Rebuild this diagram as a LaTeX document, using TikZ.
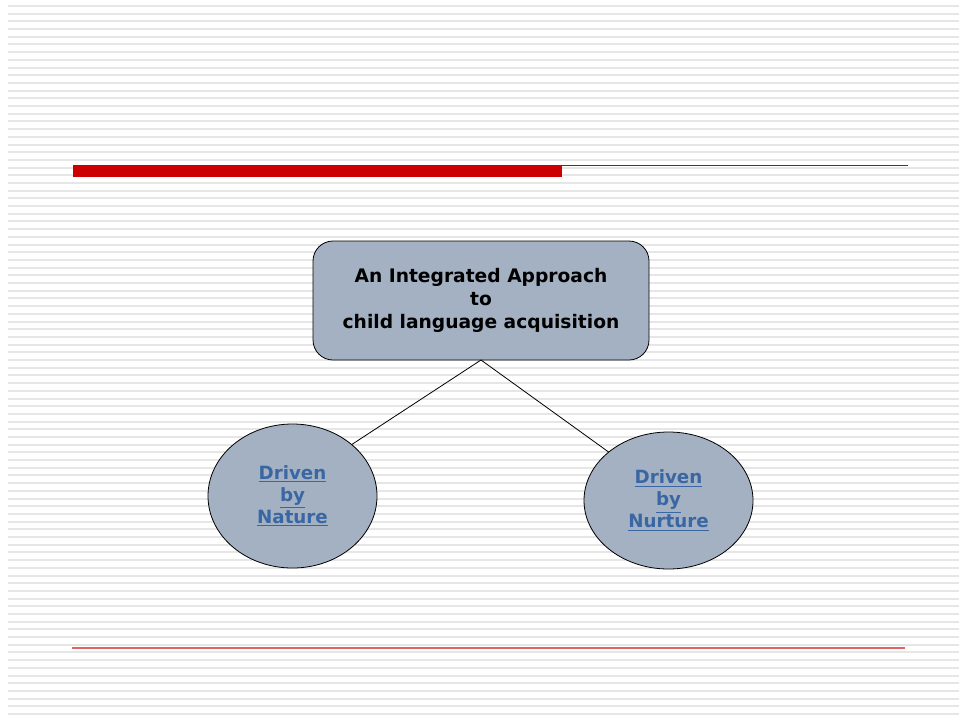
\documentclass[tikz,border=0pt]{standalone}
\usepackage{fontspec}
\setmainfont{DejaVu Sans}
\usetikzlibrary{shapes.geometric}
\definecolor{stripegray}{HTML}{E6E6E6}
\definecolor{barred}{HTML}{CC0000}
\definecolor{rulered}{HTML}{E06464}
\definecolor{boxfill}{HTML}{A3B1C2}
\definecolor{linkblue}{HTML}{3A67A3}
\tikzset{
  stripe/.style={fill=stripegray},
  titlebox/.style={draw=black, line width=0.6pt, fill=boxfill, rounded corners=15pt,
    minimum width=252pt, minimum height=89.25pt, inner sep=0pt, outer sep=0pt,
    align=center, font=\fontsize{14}{17}\selectfont\bfseries},
  bubble/.style={ellipse, draw=black, line width=0.6pt, fill=boxfill, inner sep=0pt, outer sep=0pt,
    minimum width=126.75pt, align=center, text=linkblue,
    font=\fontsize{13.7}{16.5}\selectfont\bfseries},
  link/.style={draw=black, line width=0.6pt}
}
\begin{document}
\begin{tikzpicture}[x=0.75pt,y=-0.75pt]
  \useasboundingbox (0,0) rectangle (959,715);
  \fill[white] (0,0) rectangle (959,715);
  % ruled background
  \foreach \k in {0,...,92}
    \fill[stripe] (8,{5+7.696*\k}) rectangle (959,{7+7.696*\k});
  % title bar and rules
  \fill[barred] (73,165) rectangle (562,177);
  \draw[barred, line width=1pt] (562,165.5) -- (908,165.5);
  \draw[rulered, line width=1.2pt] (72,648) -- (905,648);
  % diagram
  \node[titlebox] (top) at (481,300.5)
    {An Integrated Approach\\to\\child language acquisition};
  \node[bubble, minimum height=108pt] (nature) at (292.5,496)
    {\underline{Driven}\\\underline{by}\\\underline{Nature}};
  \node[bubble, minimum height=102.75pt] (nurture) at (668.5,500.5)
    {\underline{Driven}\\\underline{by}\\\underline{Nurture}};
  \draw[link] (top.south) -- (nature.41);
  \draw[link] (top.south) -- (nurture.141);
\end{tikzpicture}
\end{document}
